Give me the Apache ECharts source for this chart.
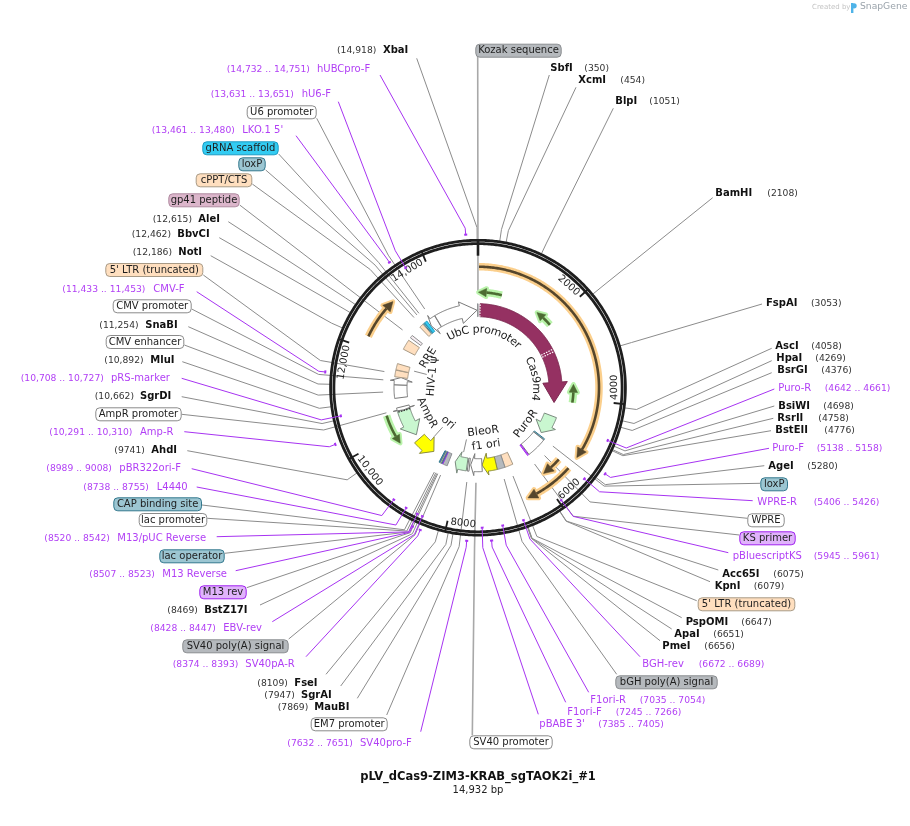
<!DOCTYPE html>
<html><head><meta charset="utf-8">
<style>html,body{margin:0;padding:0;background:#fff}#c{width:910px;height:826px}</style>
<script src="https://cdn.jsdelivr.net/npm/echarts@6/dist/echarts.min.js"></script>
</head><body><div id="c"></div>
<script>
const plasmidLength = 14932;
const title = "pLV_dCas9-ZIM3-KRAB_sgTAOK2i_#1";
const subtitle = "14,932 bp";
const tickValues = [2000,4000,6000,8000,10000,12000,14000];
const tickLabels = ["2000","4000","6000","8000","10,000","12,000","14,000"];

const siteNames = ["XbaI","SbfI","XcmI","BlpI","BamHI","FspAI","AscI","HpaI","BsrGI","BsiWI","RsrII","BstEII","AgeI","Acc65I","KpnI","PspOMI","ApaI","PmeI","MauBI","SgrAI","FseI","BstZ17I","AhdI","SgrDI","MluI","SnaBI","NotI","BbvCI","AleI"];
const siteBps   = [14918,350,454,1051,2108,3053,4058,4269,4376,4698,4758,4776,5280,6075,6079,6647,6651,6656,7869,7947,8109,8469,9741,10662,10892,11254,12186,12462,12615];

const primerNames  = ["hUBCpro-F","hU6-F","LKO.1 5'","CMV-F","pRS-marker","Amp-R","pBR322ori-F","L4440","M13/pUC Reverse","M13 Reverse","EBV-rev","SV40pA-R","SV40pro-F","pBABE 3'","F1ori-F","F1ori-R","BGH-rev","pBluescriptKS","WPRE-R","Puro-F","Puro-R"];
const primerStarts = [14732,13631,13461,11433,10708,10291,8989,8738,8520,8507,8428,8374,7632,7385,7245,7035,6672,5945,5406,5138,4642];
const primerEnds   = [14751,13651,13480,11453,10727,10310,9008,8755,8542,8523,8447,8393,7651,7405,7266,7054,6689,5961,5426,5158,4661];
const primerInside = [0,1,0,0,1,0,1,1,1,0,1,0,0,1,0,1,1,1,1,0,1];

const featureNames  = ["Kozak sequence","Cas9m4","PuroR","loxP","WPRE","KS primer","5' LTR (truncated)","bGH poly(A) signal","f1 ori","SV40 promoter","EM7 promoter","BleoR","SV40 poly(A) signal","M13 rev","lac operator","lac promoter","CAP binding site","ori","AmpR","AmpR promoter","CMV enhancer","CMV promoter","5' LTR (truncated)","HIV-1 \u03c8","RRE","gp41 peptide","cPPT/CTS","loxP","gRNA scaffold","U6 promoter","UbC promoter"];
const featureStarts = [14922,60,4600,5290,5330,5935,6450,6690,6915,7345,7723,7800,8360,8497,8522,8546,8591,8906,9650,10511,10895,11283,11510,11710,12330,12710,13115,13255,13300,13395,13650];
const featureEnds   = [14932,4190,5200,5325,5915,5965,6690,6915,7340,7690,7771,8175,8495,8514,8538,8576,8612,9499,10511,10616,11283,11510,11700,11890,12625,12793,13235,13290,13376,13640,14900];
const featureDirs   = [0,1,1,0,0,0,0,0,1,1,0,1,0,0,0,0,0,-1,-1,-1,0,1,0,0,0,0,0,0,0,-1,1];
const featureKinds  = ["grey","maroon","green","teal","white","purple","orange","grey","yellow","white","white","green","grey","purple","teal","white","teal","yellow","green","white","white","white","orange","orange","orange","pink","orange","teal","blue","white","white"];

const orfStarts = [20,5460,5460,12240,600,2025,4107,10494];
const orfEnds   = [5195,6455,5915,13080,10,1580,3650,9727];
const orfKinds  = ["orange","orange","orange","orange","green","green","green","green"];

const innerTexts = ["UbC promoter","Cas9m4","PuroR","f1 ori","BleoR","ori","AmpR","HIV-1 \u03c8","RRE"];
const innerBps   = [290,3360,5268,7134,7180,9150,10108,11780,12485];

// ---------- layout (not data): label placement in page pixels ----------
const siteLayout = { // nameX, y, numberX, leaderX, leaderY
 XbaI:[383,50.7,337,416.7,58.3],SbfI:[550.3,68.3,584.3,549.3,75],XcmI:[578.3,80.3,620.3,576,87.3],BlpI:[615.3,101.3,649.3,613.3,108.3],
 BamHI:[715.3,193.3,767.3,712.7,197.7],FspAI:[766,303,811,762,304],AscI:[775.3,346.3,811.3,771.7,348.3],HpaI:[776.3,358.3,815.3,771.7,360.7],
 BsrGI:[777.3,370.3,821.3,771.7,372.7],BsiWI:[778.3,406.3,823.3,774.3,406],RsrII:[777.3,418.3,818.3,773.3,418.3],BstEII:[775.3,430.3,824.3,771,430.7],
 AgeI:[768.3,466.3,807.3,764.3,465.7],Acc65I:[722.3,574.3,773.3,718.3,570],KpnI:[714.7,586.3,753.7,710,581.7],PspOMI:[685.7,622.3,741.3,681.7,617.7],
 ApaI:[674.3,634.3,713.3,671.7,629],PmeI:[662.3,646.3,704.3,660,640.7],MauBI:[314.3,707,277.7,357.3,698.3],SgrAI:[301,695,264.3,340.7,686],
 FseI:[294.3,683,257.3,326,674.3],BstZ17I:[204.3,610.7,167.3,260,605],AhdI:[151.3,450.7,114.3,187.3,450.7],SgrDI:[140,396.7,94.7,181.7,396.7],
 MluI:[150.3,360.7,104.3,182.3,361.7],SnaBI:[145.3,325,99.3,188.3,326.7],NotI:[178.3,252.7,132.7,210.7,255.7],BbvCI:[177.3,234.7,131.7,219.3,237.7],AleI:[198.3,219,152.7,228.3,221.7]};
const primerLayout = [[317,69,226.7,380,75],[301.7,94.7,210.7,338.3,101.7],[242.3,130.7,151.7,296,135.7],[153.3,289,62.3,196.7,291.7],[111,378.7,20.7,181.7,378.3],[140,432.7,49.3,184.3,431.7],[119.3,468.7,46.3,191.7,468.7],[156.7,487,83.3,196.7,487],[117.3,538.7,44.3,216.7,536.7],[162.3,574.7,89.3,235.7,570.7],[223.3,628.7,150.3,272.3,621.7],[245.3,664.7,172.7,306,656.7],[360,743,287.3,420.7,731.7],[539.3,724.3,598.3,538.3,714.3],[567.3,712.3,615.7,565.7,702.3],[590.3,700,639.7,588.7,692.3],[642.3,664.3,698.7,640,656.7],[732.7,556.3,813.7,728.3,552.7],[757.3,502.3,813.7,752.7,500.7],[772.3,448.3,816.7,769,448.3],[778.3,388,824.7,774.3,389]];
const badgeLayout = [ // left, right, y, leaderX, leaderY (null: no outer label)
 [475.3,561.7,50.7,477.7,56.7],null,null,[760.3,788,484.3,760,483.3],[747.3,784.7,520.3,747.3,518.3],[739.3,795.7,538.3,739.3,535],[697.7,795.3,604.3,696.7,600.7],[615.3,717.7,682.3,616.7,674.3],null,[469.3,552.7,742.3,472.3,735.5],[310.7,387.7,724.3,386.7,715],null,[182.3,288.7,646.3,288.7,639],[199.3,246.7,592.3,246.7,587.7],[159.3,224.7,556.3,224.7,553.3],[138.7,207.3,520,207.3,518.3],[113.3,202,504.3,202,505],null,null,[95.3,181.7,414.3,181.7,414.3],[105.7,184.3,342,184.3,345],[112.7,191.7,306.3,191.7,309],[105.3,203.3,270,203.3,275],null,null,[168.3,239.7,200.3,239.7,205],[195.7,252.3,180.3,252.3,184],[238.3,265.7,164.3,265.7,170],[202.3,278.7,148.3,278.7,154],[246.7,316.7,112.3,316.7,118.3],null];
const headLengths = {"Cas9m4":620,"PuroR":290,"f1 ori":170,"SV40 promoter":110,"BleoR":130,"ori":290,"AmpR":390,"AmpR promoter":40,"CMV promoter":110,"U6 promoter":90,"UbC promoter":500};
const innerRadius = [58,58,60,58,44,46,57,47,58];
const innerFlip   = [0,0,1,1,1,1,1,0,0];
const innerCurved = [1,1,0,0,0,0,0,0,0];
const innerRotate = [null,null,null,null,null,null,null,85,null];
const innerLeaderNames = ["ori","BleoR","HIV-1 \u03c8"];

// ---------- styles ----------
const FF = '"DejaVu Sans"';
const F_NAME = '10px '+FF, F_BOLD = 'bold 10px '+FF, F_NUM = '9.2px '+FF, F_INNER='11px '+FF;
const PURPLE='#a733f2', PTEXT='#b13ff5', GREYLINE='#8c8c8c', DARK='#1e1e1e';
const kindStyle = {
 white:['#ffffff','#7a7a7a'],maroon:['#953162','#7d2a52'],green:['#c9f7d0','#7a8a7e'],teal:['#9cc6d2','#33788e'],
 purple:['#e0b3fb','#a020f0'],orange:['#ffdfbf','#a89a86'],grey:['#b5b9bd','#8a8d90'],yellow:['#ffff00','#8a8a40'],
 blue:['#33ccf2','#1d9cc4'],pink:['#dcb6cb','#b08aa0']};
const orfStyle = {orange:['#fbcf8c','#55462c'],green:['#b9f3aa','#4c6b32']};

const mctx = document.createElement('canvas').getContext('2d');
function tw(t,f){mctx.font=f;return mctx.measureText(t).width;}
const rad = bp => bp/plasmidLength*2*Math.PI;
const pt = (api,r,bp)=>api.coord([r,bp]);
function arc(api,r,a,b){const n=Math.max(2,Math.ceil(Math.abs(b-a)/25));const o=[];for(let i=0;i<=n;i++)o.push(pt(api,r,a+(b-a)*i/n));return o;}
function text(t,x,y,font,fill,align,rot){
  return {type:'text',x,y,rotation:rot||0,style:{text:t,x:0,y:0,font,fill,align:align||'left',verticalAlign:'middle',textAlign:align||'left',textVerticalAlign:'middle'}};
}
function line(points,stroke,w,dash){return {type:'polyline',shape:{points},style:{stroke,fill:null,lineWidth:w,lineDash:dash||null}};}
function layer(z,items,draw){
  return {type:'custom',coordinateSystem:'polar',silent:true,z,clip:false,animation:false,encode:{radius:0,angle:1},
    data:items.map(it=>[it.r||100,it.bp||0]),
    renderItem:(p,api)=>({type:'group',children:draw(items[p.dataIndex],api)})};
}
const fmt = n => n>=10000 ? String(n).replace(/(\d\d)(\d{3})$/,'$1,$2') : String(n);

// ---------- items ----------
const sites = siteNames.map((n,i)=>({name:n,bp:siteBps[i],lay:siteLayout[n]}));
const primers = primerNames.map((n,i)=>({name:n,s:primerStarts[i],e:primerEnds[i],bp:(primerStarts[i]+primerEnds[i])/2,r:primerInside[i]?140:153.5,lay:primerLayout[i]}));
const features = featureNames.map((n,i)=>({name:n,s:featureStarts[i],e:featureEnds[i],dir:featureDirs[i],kind:featureKinds[i],bp:(featureStarts[i]+featureEnds[i])/2,lay:badgeLayout[i]}));
const orfs = orfStarts.map((s,i)=>({s,e:orfEnds[i],kind:orfKinds[i],r:i===2?108:(i<4?121:95.5),bp:s}));
const inners = innerTexts.map((t,i)=>({t,bp:innerBps[i],r:innerRadius[i],flip:innerFlip[i],curved:innerCurved[i],rot:innerRotate[i]}));
const ticks = tickValues.map((v,i)=>({bp:v,label:tickLabels[i]}));

function featureShape(f,api){
  const st=kindStyle[f.kind], r0=71, r1=84, head=headLengths[f.name];
  let points;
  if(f.dir && head){
    const tip=f.dir>0?f.e:f.s, base=f.dir>0?f.e-head:f.s+head, tail=f.dir>0?f.s:f.e;
    const wo=f.name==='Cas9m4'?89.5:88, wi=f.name==='Cas9m4'?65:66;
    points=[...arc(api,r1,tail,base),pt(api,wo,base),pt(api,(r0+r1)/2,tip),pt(api,wi,base),...arc(api,r0,base,tail)];
  } else {
    points=[...arc(api,r1,f.s,f.e),...arc(api,r0,f.e,f.s)];
  }
  const pale=f.name==='gp41 peptide';
  return {type:'polygon',shape:{points},style:{fill:pale?'#f7eef3':st[0],stroke:pale?'#8e8e8e':st[1],lineWidth:1,lineJoin:'miter'}};
}

function badgeText(f){
  const l=f.lay, st=kindStyle[f.kind];
  return [{type:'rect',shape:{x:l[0]+.5,y:l[2]-6.5,width:l[1]-l[0]-1,height:13,r:4},style:{fill:st[0],stroke:f.kind==='white'?'#8a8a8a':st[1],lineWidth:1}},
          text(f.name,(l[0]+l[1])/2,l[2],F_NAME,DARK,'center')];
}

const heavy = n => n==='Kozak sequence'||n==='SV40 promoter';
const series = [
  // grey leaders for enzyme sites and features
  layer(1,sites,(s,api)=>[line([[s.lay[3],s.lay[4]],pt(api,160,s.bp),pt(api,148,s.bp)],GREYLINE,1)]),
  layer(1,features.filter(f=>f.lay),(f,api)=>{
    const b=f.name==='Kozak sequence'?14931:f.bp;
    return [line([[f.lay[3],f.lay[4]],pt(api,160,b),pt(api,95,b)],heavy(f.name)?'#a8a8a8':GREYLINE,heavy(f.name)?1.6:1)];
  }),
  layer(1,features.filter(f=>innerLeaderNames.includes(f.name)),(f,api)=>[line([pt(api,53,f.bp),pt(api,66,f.bp)],GREYLINE,1)]),
  // open reading frame arrows
  layer(2,orfs,(o,api)=>{
    const st=orfStyle[o.kind], dir=o.e>o.s?1:-1, small=o.kind==='green', hl=small?8:9.5, hw=small?4.2:5;
    const headBp=hl/o.r/(2*Math.PI)*plasmidLength, base=o.e-dir*headBp;
    const spine=arc(api,o.r,o.s,base), hd=[pt(api,o.r+hw,base),pt(api,o.r,o.e),pt(api,o.r-hw,base)];
    return [line(spine,st[0],7.5),
      {type:'polygon',shape:{points:hd},style:{fill:st[0],stroke:st[0],lineWidth:4.5,lineJoin:'round'}},
      line(spine,st[1],2.6),
      {type:'polygon',shape:{points:hd},style:{fill:st[1],stroke:st[1],lineWidth:.5}}];
  }),
  // features
  layer(3,features,(f,api)=>[featureShape(f,api)]),
  // dotted details inside features
  layer(4,[{bp:2605,c:'#fff'},{bp:2680,c:'#fff'},{bp:62,c:'#fff'}],(d,api)=>[line([pt(api,71,d.bp),pt(api,84,d.bp)],d.c,1.2,[1.5,1.2])]),
  layer(4,[{bp:10490}],(d,api)=>[line([pt(api,71,d.bp),pt(api,84,d.bp)],'#333',1.2,[1.5,1.2])]),
  // plasmid ring
  layer(5,[{r:147.4,bp:0},{r:144.1,bp:0}],(o,api)=>{
    const pts=arc(api,o.r,0,plasmidLength); pts.pop();
    return [{type:'polygon',shape:{points:pts},style:{fill:null,stroke:DARK,lineWidth:2.8}}];
  }),
  layer(6,[{bp:0}],(o,api)=>[line([pt(api,132,0),pt(api,147,0)],DARK,2.6)]),
  layer(6,ticks,(t,api)=>{
    const flip=t.bp>3730&&t.bp<11200;
    const w=tw(t.label,F_NAME), cbp=t.bp-((w/2+3)/136)/(2*Math.PI)*plasmidLength, p=pt(api,136.5,cbp);
    const a=rad(cbp), rot=flip?Math.PI-a:-a;
    return [line([pt(api,136.5,t.bp),pt(api,147,t.bp)],DARK,1.8),text(t.label,p[0],p[1],F_NAME,DARK,'center',rot)];
  }),
  // primers over the ring
  layer(7,primers,(p,api)=>[
    line([[p.lay[3],p.lay[4]],pt(api,160,p.bp),pt(api,p.r,p.bp)],PURPLE,1),
    line(arc(api,p.r,p.s-14,p.e+14),PURPLE,2)]),
  // label texts
  layer(8,sites,(s,api)=>[text(s.name,s.lay[0],s.lay[1],F_BOLD,'#111'),text('('+fmt(s.bp)+')',s.lay[2],s.lay[1]+.4,F_NUM,'#333')]),
  layer(8,primers,(p,api)=>[text(p.name,p.lay[0],p.lay[1],F_NAME,PTEXT),text('('+fmt(p.s)+' .. '+fmt(p.e)+')',p.lay[2],p.lay[1]+.4,F_NUM,PTEXT)]),
  layer(8,features.filter(f=>f.lay),(f,api)=>badgeText(f)),
  layer(8,inners,(l,api)=>{
    if(l.curved){
      const total=tw(l.t,F_INNER); let off=-total/2; const out=[];
      for(const ch of l.t){
        const w=tw(ch,F_INNER), b=l.bp+((off+w/2)/l.r)/(2*Math.PI)*plasmidLength, p=pt(api,l.r,b);
        out.push(text(ch,p[0],p[1],F_INNER,DARK,'center',-rad(b))); off+=w;
      }
      return out;
    }
    const p=pt(api,l.r,l.bp), a=rad(l.bp), rot=l.rot!=null?l.rot*Math.PI/180:(l.flip?Math.PI-a:-a);
    return [text(l.t,p[0],p[1],F_INNER,DARK,'center',rot)];
  })
];

const chart = echarts.init(document.getElementById('c'),null,{width:910,height:826,renderer:'canvas'});
chart.setOption({
  animation:false,
  backgroundColor:'#fff',
  polar:{center:[478,387.7],radius:148},
  angleAxis:{type:'value',min:0,max:plasmidLength,startAngle:90,clockwise:true,show:false},
  radiusAxis:{type:'value',min:0,max:148,show:false},
  title:[
    {text:title,left:478,top:771.5,textAlign:'center',textStyle:{fontFamily:FF,fontSize:11.5,fontWeight:'bold',color:'#111'},padding:0},
    {text:subtitle,left:478,top:785,textAlign:'center',textStyle:{fontFamily:FF,fontSize:10,fontWeight:'normal',color:'#222'},padding:0}
  ],
  graphic:[
    {type:'text',left:812,top:4,style:{text:'Created by',font:'7px '+FF,fill:'#c4c4c4'}},
    {type:'rect',left:851,top:3,shape:{width:2.4,height:10},style:{fill:'#4fb3e8'}},
    {type:'circle',left:851.5,top:3.2,shape:{r:2.6},style:{fill:'#4fb3e8'}},
    {type:'text',left:860,top:2.5,style:{text:'SnapGene',font:'9.2px '+FF,fill:'#9aa3ab'}}
  ],
  series
});
</script></body></html>
